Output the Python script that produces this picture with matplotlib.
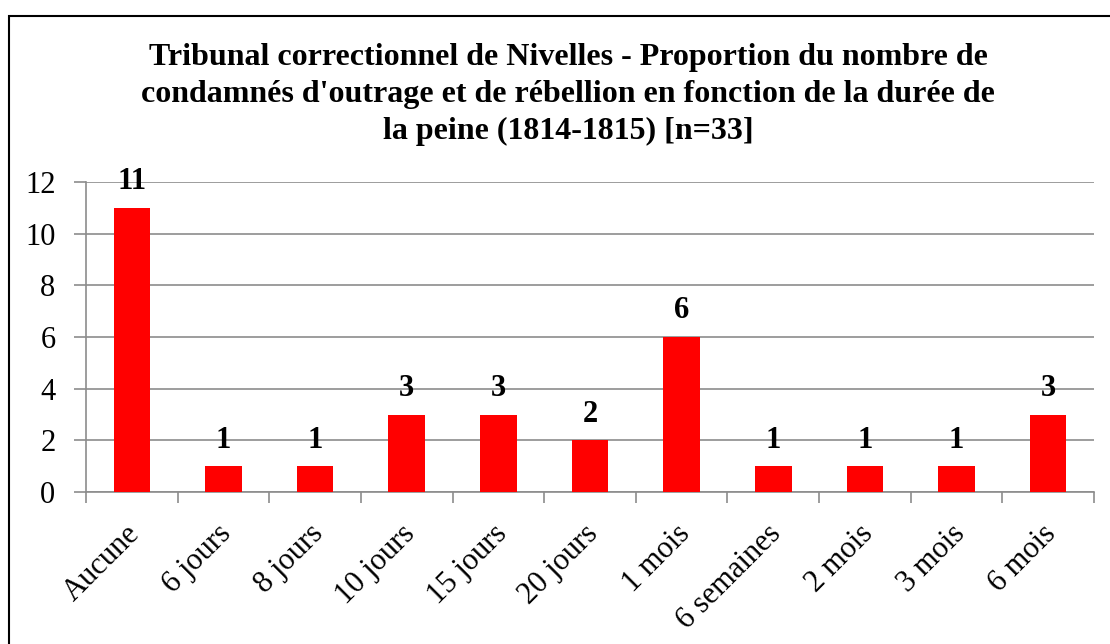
import matplotlib.pyplot as plt
from matplotlib.patches import Rectangle
from matplotlib.transforms import ScaledTranslation
import numpy as np

plt.rcParams['font.family'] = ['Liberation Serif', 'DejaVu Serif']

categories = ['Aucune', '6 jours', '8 jours', '10 jours', '15 jours', '20 jours',
              '1 mois', '6 semaines', '2 mois', '3 mois', '6 mois']
counts = [11, 1, 1, 3, 3, 2, 6, 1, 1, 1, 3]

title = ("Tribunal correctionnel de Nivelles - Proportion du nombre de\n"
         "condamnés d'outrage et de rébellion en fonction de la durée de\n"
         "la peine (1814-1815) [n=33]")

fig = plt.figure(figsize=(11.1, 6.44), dpi=100)
ax = fig.add_axes([0.0775, 0.236, 0.908, 0.4814])

x = np.arange(len(categories))
ax.bar(x, counts, width=0.4, color='#ff0000', zorder=3)

for xi, v in zip(x, counts):
    ax.text(xi, v + 0.45, str(v), ha='center', va='bottom',
            fontsize=22, fontweight='bold')

ax.set_xlim(-0.5, len(categories) - 0.5)
ax.set_ylim(0, 12)
ax.set_yticks(range(0, 13, 2))
ax.yaxis.grid(True, color='#8c8c8c', linewidth=1.2, zorder=0)
ax.tick_params(axis='y', labelsize=22, length=9, width=1.2, color='#8c8c8c', pad=13)

# category ticks sit between the bars
ax.set_xticks(np.arange(-0.5, len(categories), 1.0))
ax.set_xticklabels([])
ax.set_xticks(x, minor=True)
ax.set_xticklabels(categories, minor=True, rotation=45, ha='right', va='center',
                   rotation_mode='anchor', fontsize=22)
ax.tick_params(axis='x', which='major', length=8, width=1.2, color='#8c8c8c')
ax.tick_params(axis='x', which='minor', length=0, pad=27)
shift = ScaledTranslation(4 / 100, 0, fig.dpi_scale_trans)
for lab in ax.get_xticklabels(minor=True):
    lab.set_transform(lab.get_transform() + shift)

for side in ['top', 'right']:
    ax.spines[side].set_visible(False)
for side in ['left', 'bottom']:
    ax.spines[side].set_color('#8c8c8c')
    ax.spines[side].set_linewidth(1.2)

fig.text(0.512, 0.853, title, ha='center', va='center', fontsize=23,
         fontweight='bold', linespacing=1.37)

# outer chart frame
fig.patches.append(Rectangle((9 / 1110, -0.1), 1.2, 0.1 + (644 - 16) / 644,
                             transform=fig.transFigure, fill=False,
                             edgecolor='black', linewidth=1.5))

fig.savefig('out.png', dpi=100)
